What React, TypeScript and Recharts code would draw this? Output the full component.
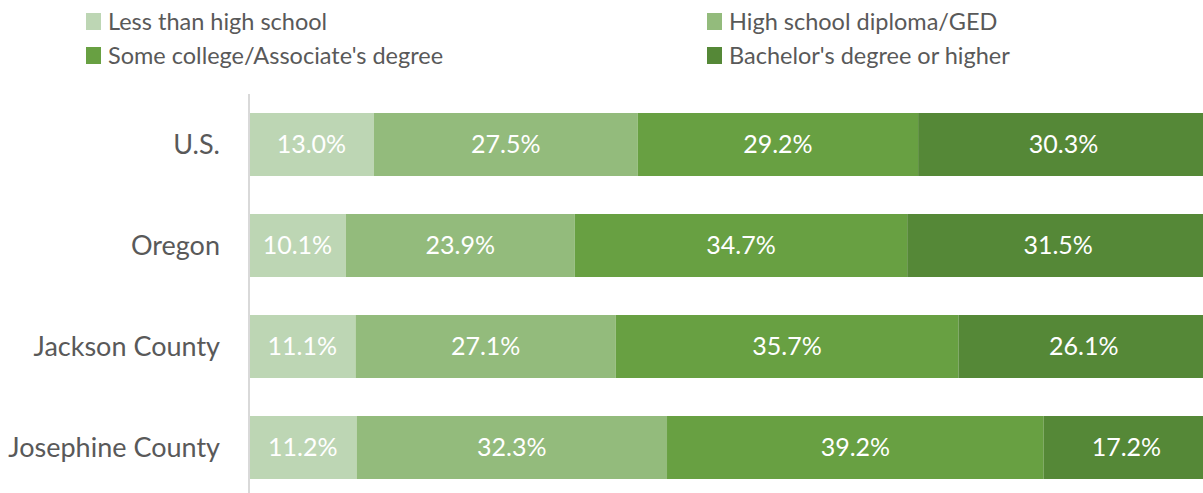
import React from "react"
import { Bar, BarChart, LabelList, Legend, XAxis, YAxis } from "recharts"

const regions = ["U.S.", "Oregon", "Jackson County", "Josephine County"]
const lessThanHighSchool = [13.0, 10.1, 11.1, 11.2]
const highSchool = [27.5, 23.9, 27.1, 32.3]
const someCollege = [29.2, 34.7, 35.7, 39.2]
const bachelors = [30.3, 31.5, 26.1, 17.2]

const seriesNames = [
  "Less than high school",
  "High school diploma/GED",
  "Some college/Associate's degree",
  "Bachelor's degree or higher",
]
const colors = ["#bdd6b4", "#93bb7c", "#68a042", "#558837"]
const keys = ["lt", "hs", "sc", "ba"]

const data = regions.map((name, i) => ({
  name,
  lt: lessThanHighSchool[i],
  hs: highSchool[i],
  sc: someCollege[i],
  ba: bachelors[i],
}))

const font = "Lato, 'Open Sans', sans-serif"

function LegendBox() {
  // two columns, two rows, like the Excel legend
  const spots = [
    { left: 86, top: 6 },
    { left: 707, top: 6 },
    { left: 86, top: 40 },
    { left: 707, top: 40 },
  ]
  return (
    <div style={{ position: "relative", width: 1203, height: 80 }}>
      {seriesNames.map((n, i) => (
        <div
          key={n}
          style={{
            position: "absolute",
            left: spots[i].left,
            top: spots[i].top,
            display: "flex",
            alignItems: "center",
            height: 30,
            fontFamily: font,
            fontSize: 23.5,
            color: "#595959",
            whiteSpace: "nowrap",
          }}
        >
          <span
            style={{
              display: "inline-block",
              width: 15,
              height: 17,
              background: colors[i],
              marginRight: 7,
            }}
          />
          {n}
        </div>
      ))}
    </div>
  )
}

const fmt = (v: any) => `${Number(v).toFixed(1)}%`

export default function App() {
  return (
    <div style={{ position: "absolute", left: 0, top: 0, width: 1203, height: 493, overflow: "hidden", background: "#fff" }}>
      <BarChart
        width={1209}
        height={498}
        data={data}
        layout="vertical"
        stackOffset="expand"
        margin={{ top: 14, right: 0, left: 0, bottom: 0 }}
      >
        <Legend
          verticalAlign="top"
          height={80}
          content={() => <LegendBox />}
          wrapperStyle={{ top: 0, left: 0, width: 1203 }}
        />
        <XAxis type="number" domain={[0, 1]} hide />
        <YAxis
          type="category"
          dataKey="name"
          width={249}
          tickLine={false}
          tickSize={0}
          tickMargin={29}
          axisLine={{ stroke: "#d9d9d9", strokeWidth: 2 }}
          tick={{ fill: "#595959", fontSize: 27, fontFamily: font }}
        />
        {keys.map((k, i) => (
          <Bar
            key={k}
            dataKey={k}
            name={seriesNames[i]}
            stackId="a"
            fill={colors[i]}
            barSize={63}
            isAnimationActive={false}
          >
            <LabelList
              dataKey={k}
              position="center"
              formatter={fmt}
              fill="#ffffff"
              style={{ fontSize: 25, fontFamily: font }}
            />
          </Bar>
        ))}
      </BarChart>
    </div>
  )
}
